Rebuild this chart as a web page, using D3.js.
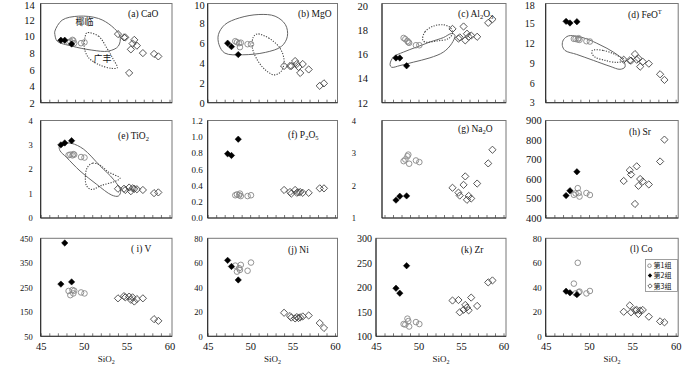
<!DOCTYPE html>
<html><head><meta charset="utf-8">
<script src="https://cdn.jsdelivr.net/npm/d3@7"></script>
<style>
body{margin:0;background:#fff}
svg{display:block}
text{font-family:"Liberation Serif","Times New Roman",serif;fill:#111}
</style>
</head><body>
<svg id="chart" width="700" height="366"></svg>
<script>
// ---------- data ----------
const sio2G1 = [48.25, 48.45, 48.7, 48.8, 48.9, 49.7, 50.1];
const sio2G2 = [47.35, 47.8, 48.6];
const sio2G3 = [54.0, 54.7, 54.85, 55.3, 55.5, 55.7, 55.9, 56.2, 56.9, 58.2, 58.7];

const caoG1 = [9.3, 9.4, 9.6, 9.5, 9.2, 9.2, 9.3];
const caoG2 = [9.55, 9.55, 9.1];
const caoG3 = [10.3, 9.9, 9.9, 5.6, 8.45, 9.15, 9.6, 8.9, 8.0, 7.9, 7.6];

const mgoG1 = [6.2, 6.1, 6.0, 5.6, 6.05, 5.9, 5.9];
const mgoG2 = [6.0, 5.65, 4.85];
const mgoG3 = [3.7, 3.7, 3.7, 4.2, 3.9, 3.6, 3.0, 3.9, 3.35, 1.7, 1.95];

const al2o3G1 = [17.35, 17.25, 17.1, 17.0, 16.95, 16.75, 16.75];
const al2o3G2 = [15.7, 15.7, 15.05];
const al2o3G3 = [18.1, 17.3, 17.4, 18.3, 17.15, 17.7, 17.45, 17.55, 17.45, 18.6, 18.9];

const feotG1 = [12.65, 12.65, 12.55, 12.75, 12.5, 12.3, 12.25];
const feotG2 = [15.3, 15.05, 15.25];
const feotG3 = [9.5, 9.4, 9.35, 10.35, 9.5, 9.7, 8.45, 9.2, 8.9, 7.3, 6.45];

const tio2G1 = [2.58, 2.6, 2.57, 2.62, 2.6, 2.5, 2.48];
const tio2G2 = [3.0, 3.08, 3.17];
const tio2G3 = [1.2, 1.2, 1.15, 1.25, 1.1, 1.22, 1.2, 1.18, 1.15, 1.02, 1.05];

const p2o5G1 = [0.28, 0.29, 0.28, 0.3, 0.27, 0.27, 0.28];
const p2o5G2 = [0.79, 0.77, 0.97];
const p2o5G3 = [0.345, 0.32, 0.30, 0.345, 0.31, 0.315, 0.32, 0.31, 0.31, 0.365, 0.365];

const na2oG1 = [2.75, 2.8, 2.9, 2.95, 2.67, 2.77, 2.72];
const na2oG2 = [1.55, 1.67, 1.68];
const na2oG3 = [1.93, 1.78, 1.69, 2.02, 2.28, 1.56, 1.68, 1.6, 2.06, 2.68, 3.1];

const srG1 = [519, 526, 553, 528, 510, 528, 518];
const srG2 = [515, 540, 637];
const srG3 = [590, 645, 623, 472, 665, 565, 600, 587, 572, 690, 802];

const vG1 = [235, 218, 239, 225, 236, 229, 225];
const vG2 = [263, 431, 272];
const vG3 = [205, 214, 209, 212, 199, 209, 192, 202, 205, 120, 113];

const niG1 = [57.7, 52.8, 55.6, 54.2, 58.3, 53.5, 60.2];
const niG2 = [62, 57, 46];
const niG3 = [19.2, 16.5, 15.3, 14.6, 15.7, 14.9, 15.5, 16.2, 17.0, 10.8, 6.8];

const zrG1 = [125, 124, 136, 131, 120, 129, 125];
const zrG2 = [198, 188, 244];
const zrG3 = [173, 174, 149, 154, 164, 159, 153, 179, 162, 210, 214];

const coG1 = [43, 35, 60, 36, 36.5, 35, 37];
const coG2 = [36.8, 35.5, 34];
const coG3 = [20, 25.2, 19.6, 21.3, 21.5, 18.2, 21, 21.5, 16, 12.2, 11.4];

// tick labels
const xTicks = [45, 50, 55, 60];
const yTicksCaO = [2, 4, 6, 8, 10, 12, 14];
const yTicksMgO = [0, 2, 4, 6, 8, 10];
const yTicksAl = [12, 14, 16, 18, 20];
const yTicksFe = [3, 6, 9, 12, 15, 18];
const yTicksTi = [0, 1, 2, 3, 4];
const yTicksP = [0, 0.2, 0.4, 0.6, 0.8, 1.0, 1.2];
const yTicksNa = [1, 2, 3, 4];
const yTicksSr = [400, 500, 600, 700, 800, 900];
const yTicksV = [50, 150, 250, 350, 450];
const yTicksNi = [0, 20, 40, 60, 80];
const yTicksZr = [100, 150, 200, 250, 300];
const yTicksCo = [0, 20, 40, 60, 80];

const groupNames = ["第1组", "第2组", "第3组"];
const regionNames = ["椰临", "广丰"];

// field outlines (data coordinates)
const fieldSolidA = [[46.65,10.66],[47.5,11.99],[49.42,12.47],[51.73,12.19],[53.27,11.26],[54.23,10.05],[54.04,8.84],[52.88,8.24],[50.96,8.36],[48.65,8.84],[46.92,9.45],[46.65,10.25]];
const fieldDotA = [[50.38,10.46],[51.73,10.05],[52.69,8.64],[53.46,7.23],[53.92,6.23],[53.27,6.15],[51.73,6.63],[50.58,7.44],[50.08,8.64],[50.19,10.05]];
const fieldSolidB = [[46.26,6.86],[47.02,7.87],[48.74,8.55],[51.03,8.89],[52.94,8.72],[54.16,7.87],[54.39,6.69],[53.7,5.68],[51.79,5.07],[49.12,4.83],[47.02,5.0],[46.34,5.84]];
const fieldDotB = [[50.84,6.93],[52.18,6.52],[53.51,5.51],[54.01,4.16],[53.63,3.14],[52.86,2.8],[51.79,3.31],[50.84,4.32],[50.27,5.51],[50.38,6.62]];
const fieldSolidC = [[46.65,15.15],[47.04,15.77],[48.22,16.18],[49.78,16.6],[51.35,17.02],[52.92,17.38],[53.9,17.72],[54.29,17.58],[53.9,16.88],[52.92,16.18],[51.35,15.71],[49.39,15.35],[47.82,15.07],[46.84,14.93]];
const fieldDotC = [[50.49,17.21],[50.76,17.86],[51.75,18.33],[52.92,18.44],[53.71,18.22],[54.02,17.77],[53.51,17.3],[52.14,17.1],[50.76,17.02]];
const fieldSolidD = [[47.04,12.5],[47.62,13.1],[48.58,13.05],[49.73,12.65],[51.27,11.75],[52.81,10.65],[53.96,9.4],[54.15,8.4],[53.58,8.05],[52.42,8.5],[50.5,9.4],[48.58,10.3],[47.23,10.9],[46.92,11.65]];
const fieldDotD = [[50.38,10.9],[51.65,10.9],[53.0,10.3],[54.15,9.4],[53.19,9.1],[51.85,9.4],[50.69,9.9],[50.35,10.4]];
const fieldSolidE = [[47.17,2.94],[47.64,3.06],[48.61,3.06],[49.97,2.83],[51.91,2.14],[53.46,1.59],[54.31,1.1],[54.04,0.9],[53.27,0.94],[51.52,1.38],[49.58,1.93],[48.03,2.48],[47.25,2.76]];
const fieldDotE = [[50.43,2.07],[51.05,2.25],[51.91,2.17],[52.88,1.89],[54.24,1.63],[53.46,1.48],[52.1,1.34],[50.94,1.17],[50.36,1.31],[50.2,1.66]];

// ---------- layout ----------
const cols = [
  {x45: 40.7, x60: 169.5},
  {x45: 207.7, x60: 335},
  {x45: 376, x60: 503.5},
  {x45: 545.7, x60: 675.7}
];
const rows = [
  {top: 3.5, bottom: 102.7},
  {top: 120.5, bottom: 218},
  {top: 238.3, bottom: 336.3}
];

const panels = [
  {label:[["(a) CaO",""]], g1:caoG1,g2:caoG2,g3:caoG3, ticks:yTicksCaO, dom:[2,14], c:0,r:0, lx:128,ly:16.5, gap:6, fs:10.5, solid:fieldSolidA, dot:fieldDotA},
  {label:[["(b) MgO",""]], g1:mgoG1,g2:mgoG2,g3:mgoG3, ticks:yTicksMgO, dom:[0,10], c:1,r:0, lx:298,ly:16.5, gap:3, fs:10.5, solid:fieldSolidB, dot:fieldDotB},
  {label:[["(c) Al",""],["2","sub"],["O",""],["3","sub"]], g1:al2o3G1,g2:al2o3G2,g3:al2o3G3, ticks:yTicksAl, dom:[12,20.2], c:2,r:0, lx:458,ly:16.5, gap:14, fs:10.5, frameLeft:382, solid:fieldSolidC, dot:fieldDotC},
  {label:[["(d) FeO",""],["T","sup"]], g1:feotG1,g2:feotG2,g3:feotG3, ticks:yTicksFe, dom:[3,18], c:3,r:0, lx:628,ly:18, gap:11, fs:10, solid:fieldSolidD, dot:fieldDotD},
  {label:[["(e) TiO",""],["2","sub"]], g1:tio2G1,g2:tio2G2,g3:tio2G3, ticks:yTicksTi, dom:[0,4], c:0,r:1, lx:118,ly:138.5, gap:8, fs:8.5, solid:fieldSolidE, dot:fieldDotE},
  {label:[["(f)  P",""],["2","sub"],["O",""],["5","sub"]], g1:p2o5G1,g2:p2o5G2,g3:p2o5G3, ticks:yTicksP, dom:[0,1.2], c:1,r:1, lx:288,ly:137.5, gap:5, fs:9, fmt:d3.format(".1f")},
  {label:[["(g) Na",""],["2","sub"],["O",""]], g1:na2oG1,g2:na2oG2,g3:na2oG3, ticks:yTicksNa, dom:[1,4], c:2,r:1, lx:458,ly:131.5, gap:26, fs:8.5, frameLeft:382},
  {label:[["(h) Sr",""]], g1:srG1,g2:srG2,g3:srG3, ticks:yTicksSr, dom:[400,900], c:3,r:1, lx:629,ly:134.5, gap:4, fs:10.5},
  {label:[["( i) V",""]], g1:vG1,g2:vG2,g3:vG3, ticks:yTicksV, dom:[50,450], c:0,r:2, lx:131,ly:251.5, gap:8, fs:8.5},
  {label:[["(j) Ni",""]], g1:niG1,g2:niG2,g3:niG3, ticks:yTicksNi, dom:[0,80], c:1,r:2, lx:288,ly:252.5, gap:5, fs:8.5},
  {label:[["(k) Zr",""]], g1:zrG1,g2:zrG2,g3:zrG3, ticks:yTicksZr, dom:[100,300], c:2,r:2, lx:461,ly:252.5, gap:4, fs:10},
  {label:[["(l) Co",""]], g1:coG1,g2:coG2,g3:coG3, ticks:yTicksCo, dom:[0,80], c:3,r:2, lx:630,ly:251.5, gap:4, fs:9, legend:true}
];

const svg = d3.select("#chart");
const diamondPath = h => `M0,${-h}L${h},0L0,${h}L${-h},0Z`;
const fieldLine = d3.line().curve(d3.curveCatmullRomClosed.alpha(0.5));

panels.forEach(p => {
  const col = cols[p.c], row = rows[p.r];
  const x = d3.scaleLinear().domain([45, 60]).range([col.x45, col.x60]);
  const y = d3.scaleLinear().domain(p.dom).range([row.bottom, row.top]);
  const fl = p.frameLeft || col.x45;
  const fr = col.x60 + 2.5;
  const g = svg.append("g");

  // frame
  g.append("rect").attr("x", fl).attr("y", row.top).attr("width", fr - fl).attr("height", row.bottom - row.top)
    .attr("fill", "none").attr("stroke", "#777").attr("stroke-width", 1);

  // x axis minor ticks inside
  const xAx = g.append("g").attr("transform", `translate(0,${row.bottom})`)
    .call(d3.axisBottom(x).tickValues(d3.range(45, 61, 1).filter(v => x(v) >= fl - 0.1)).tickSize(-3).tickFormat(""));
  xAx.select(".domain").remove();
  xAx.selectAll("line").attr("stroke", "#777");
  g.append("line").attr("x1", fl).attr("x2", fr).attr("y1", row.bottom).attr("y2", row.bottom).attr("stroke", "#333");

  if (p.r === 2) {
    const xl = g.append("g").attr("transform", `translate(0,${row.bottom})`)
      .call(d3.axisBottom(x).tickValues(xTicks).tickSize(0).tickPadding(6));
    xl.select(".domain").remove();
    xl.selectAll("text").attr("font-size", 10.5).attr("font-family", "Liberation Serif, serif").attr("fill", "#111");
    const t = g.append("text").attr("x", (fl + fr) / 2).attr("y", 362).attr("text-anchor", "middle").attr("font-size", 9);
    t.append("tspan").text("SiO");
    t.append("tspan").text("2").attr("font-size", 6).attr("dy", 2);
  }

  // y axis
  const yAx = g.append("g").attr("transform", `translate(${fl},0)`)
    .call(d3.axisLeft(y).tickValues(p.ticks).tickSize(0).tickPadding(p.gap).tickFormat(p.fmt || d3.format("")));
  yAx.select(".domain").remove();
  yAx.selectAll("text").attr("font-size", p.fs).attr("font-family", "Liberation Serif, serif").attr("fill", "#111");
  // keep the top label inside the picture
  yAx.selectAll(".tick").each(function(d) {
    const yy = y(d);
    const minY = p.fs * 0.45 + 0.5;
    if (yy < minY) d3.select(this).select("text").attr("y", minY - yy);
  });
  g.append("line").attr("x1", fl).attr("x2", fl).attr("y1", row.top).attr("y2", row.bottom).attr("stroke", "#222");

  // fields
  if (p.solid) {
    g.append("path").attr("d", fieldLine(p.solid.map(d => [x(d[0]), y(d[1])])))
      .attr("fill", "none").attr("stroke", "#666").attr("stroke-width", 1);
  }
  if (p.dot) {
    g.append("path").attr("d", fieldLine(p.dot.map(d => [x(d[0]), y(d[1])])))
      .attr("fill", "none").attr("stroke", "#444").attr("stroke-width", 1.1).attr("stroke-dasharray", "1.2,1.4");
  }
  if (p.c === 0 && p.r === 0) {
    g.append("text").attr("x", x(50.1)).attr("y", y(11.35)).attr("text-anchor", "middle")
      .attr("font-size", 9).attr("fill", "#555").style("font-family", "Noto Sans CJK SC").text(regionNames[0]);
    g.append("text").attr("x", x(52.2)).attr("y", y(6.95)).attr("text-anchor", "middle")
      .attr("font-size", 9).attr("fill", "#555").style("font-family", "Noto Sans CJK SC").text(regionNames[1]);
  }

  // points: group 3 open diamonds
  g.selectAll(".g3").data(sio2G3.map((s, i) => [s, p.g3[i]])).join("path")
    .attr("d", diamondPath(3.6)).attr("transform", d => `translate(${x(d[0])},${y(d[1])})`)
    .attr("fill", "none").attr("stroke", "#444").attr("stroke-width", 0.9);
  // group 1 open circles
  g.selectAll(".g1").data(sio2G1.map((s, i) => [s, p.g1[i]])).join("circle")
    .attr("cx", d => x(d[0])).attr("cy", d => y(d[1])).attr("r", 2.8)
    .attr("fill", "none").attr("stroke", "#888").attr("stroke-width", 0.9);
  // group 2 filled diamonds
  g.selectAll(".g2").data(sio2G2.map((s, i) => [s, p.g2[i]])).join("path")
    .attr("d", diamondPath(3.2)).attr("transform", d => `translate(${x(d[0])},${y(d[1])})`)
    .attr("fill", "#000").attr("stroke", "#000").attr("stroke-width", 0.5);

  // panel label
  const lt = g.append("text").attr("x", p.lx).attr("y", p.ly).attr("font-size", 9.5);
  p.label.forEach(([s, m]) => {
    const ts = lt.append("tspan").text(s);
    if (m === "sub") ts.attr("font-size", 6.5).attr("baseline-shift", "-25%");
    else if (m === "sup") ts.attr("font-size", 6.5).attr("baseline-shift", "60%");
  });

  // legend
  if (p.legend) {
    const lg = g.append("g");
    lg.append("rect").attr("x", 645.5).attr("y", 259.5).attr("width", 32).attr("height", 32)
      .attr("fill", "#fff").attr("stroke", "#888").attr("stroke-width", 0.8);
    const ys = [265.7, 275.5, 286];
    lg.append("circle").attr("cx", 649.5).attr("cy", ys[0]).attr("r", 1.8).attr("fill", "none").attr("stroke", "#777").attr("stroke-width", 0.8);
    lg.append("path").attr("d", diamondPath(2.2)).attr("transform", `translate(650,${ys[1]})`).attr("fill", "#000");
    lg.append("path").attr("d", diamondPath(2.2)).attr("transform", `translate(650,${ys[2]})`).attr("fill", "none").attr("stroke", "#444").attr("stroke-width", 0.8);
    groupNames.forEach((nm, i) => {
      lg.append("text").attr("x", 653.5).attr("y", ys[i] + 2.6).attr("font-size", 7)
        .style("font-family", "Noto Sans CJK SC").attr("fill", "#333").text(nm);
    });
  }
});
</script>
</body></html>
